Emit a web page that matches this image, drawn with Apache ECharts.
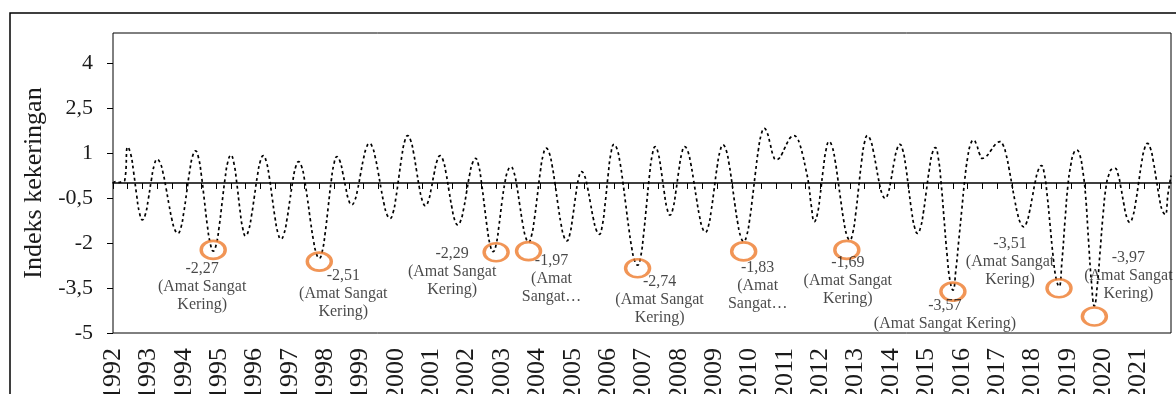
<!DOCTYPE html>
<html>
<head>
<meta charset="utf-8">
<script src="https://cdn.jsdelivr.net/npm/echarts@6/dist/echarts.min.js"></script>
<style>
html,body{margin:0;padding:0;background:#fff;}
#c{width:1176px;height:394px;}
</style>
</head>
<body>
<div id="c"></div>
<script>
// ---- data ----
const years = ['1992','1993','1994','1995','1996','1997','1998','1999','2000','2001',
  '2002','2003','2004','2005','2006','2007','2008','2009','2010','2011',
  '2012','2013','2014','2015','2016','2017','2018','2019','2020','2021'];

// monthly drought index, one row per year (Jan..Dec)
const v1992_2001 = [
  0.0, 0.05, 0.02, 0.05, 0.1, 1.2, 0.97, 0.36, -0.39, -1.0, -1.23, -1.04,
  -0.53, 0.09, 0.6, 0.79, 0.67, 0.33, -0.17, -0.72, -1.22, -1.56, -1.68, -1.50,
  -0.99, -0.31, 0.38, 0.89, 1.07, 0.85, 0.25, -0.58, -1.41, -2.01, -2.27, -2.06,
  -1.47, -0.67, 0.13, 0.72, 0.93, 0.67, 0.0, -0.83, -1.5, -1.76, -1.58, -1.09,
  -0.43, 0.24, 0.73, 0.91, 0.72, 0.22, -0.48, -1.17, -1.68, -1.87, -1.70, -1.23,
  -0.58, 0.06, 0.54, 0.71, 0.55, 0.10, -0.54, -1.26, -1.90, -2.35, -2.51, -2.28,
  -1.66, -0.82, 0.03, 0.65, 0.88, 0.73, 0.32, -0.17, -0.58, -0.73, -0.59, -0.22,
  0.30, 0.81, 1.18, 1.32, 1.20, 0.85, 0.35, -0.21, -0.71, -1.06, -1.18, -1.0,
  -0.49, 0.2, 0.89, 1.4, 1.58, 1.42, 1.0, 0.41, -0.18, -0.6, -0.76, -0.6,
  -0.18, 0.33, 0.75, 0.91, 0.76, 0.33, -0.25, -0.82, -1.25, -1.40, -1.25, -0.85
];
const v2002_2011 = [
  -0.29, 0.27, 0.67, 0.82, 0.61, 0.04, -0.74, -1.51, -2.08, -2.29, -2.05, -1.4,
  -0.62, 0.02, 0.42, 0.54, 0.37, -0.09, -0.72, -1.34, -1.80, -1.97, -1.76, -1.19,
  -0.41, 0.38, 0.95, 1.16, 1.01, 0.58, -0.04, -0.73, -1.35, -1.78, -1.93, -1.71,
  -1.13, -0.42, 0.16, 0.38, 0.24, -0.14, -0.67, -1.19, -1.57, -1.71, -1.43, -0.68,
  0.26, 1.01, 1.29, 1.14, 0.70, 0.04, -0.73, -1.49, -2.15, -2.59, -2.74, -2.48,
  -1.75, -0.77, 0.22, 0.95, 1.21, 0.99, 0.42, -0.28, -0.85, -1.07, -0.85, -0.28,
  0.42, 0.99, 1.21, 1.07, 0.67, 0.10, -0.53, -1.10, -1.50, -1.64, -1.45, -0.91,
  -0.19, 0.54, 1.07, 1.27, 1.11, 0.66, 0.02, -0.70, -1.34, -1.79, -1.95, -1.76,
  -1.24, -0.48, 0.35, 1.11, 1.63, 1.82, 1.67, 1.30, 0.92, 0.77, 0.82, 0.97,
  1.18, 1.38, 1.53, 1.58, 1.52, 1.3, 0.95, 0.5, 0.0, -0.8, -1.29, -1.04
];
const v2012_2021 = [
  -0.37, 0.46, 1.13, 1.38, 1.22, 0.76, 0.10, -0.62, -1.28, -1.74, -1.9, -1.67,
  -1.03, -0.16, 0.71, 1.35, 1.58, 1.44, 1.06, 0.54, 0.01, -0.37, -0.51, -0.34,
  0.11, 0.67, 1.12, 1.29, 1.09, 0.55, -0.20, -0.94, -1.48, -1.68, -1.49, -0.97,
  -0.25, 0.46, 0.99, 1.18, 0.86, -0.01, -1.2, -2.38, -3.25, -3.57, -2.9, -1.9,
  -0.9, 0.1, 0.85, 1.3, 1.43, 1.28, 0.98, 0.82, 0.86, 0.96, 1.10, 1.24,
  1.34, 1.38, 1.27, 0.97, 0.50, -0.04, -0.58, -1.05, -1.35, -1.46, -1.32, -0.95,
  -0.44, 0.07, 0.44, 0.58, 0.31, -0.43, -1.44, -2.44, -3.18, -3.45, -2.6, -1.3,
  -0.1, 0.6, 1.0, 1.1, 0.95, 0.45, -0.4, -1.9, -3.3, -4.1, -3.4, -2.2,
  -1.0, -0.1, 0.3, 0.47, 0.49, 0.3, -0.15, -0.7, -1.15, -1.31, -1.13, -0.65,
  0.0, 0.66, 1.14, 1.32, 1.16, 0.72, 0.13, -0.47, -0.91, -1.05, -0.35, 0.25
];

const yTicks = [-5, -3.5, -2, -0.5, 1, 2.5, 4];

// annotated extreme-drought months (circle marks)
const annotMonth = [34, 70, 130, 141, 178, 214, 249, 285, 321, 333];
const annotValue = [-2.23, -2.62, -2.31, -2.27, -2.84, -2.28, -2.23, -3.62, -3.51, -4.45];
const annotText = [
  '-2,27\n(Amat Sangat\nKering)',
  '-2,51\n(Amat Sangat\nKering)',
  '-2,29\n(Amat Sangat\nKering)',
  '-1,97\n(Amat\nSangat…',
  '-2,74\n(Amat Sangat\nKering)',
  '-1,83\n(Amat\nSangat…',
  '-1,69\n(Amat Sangat\nKering)',
  '-3,57\n(Amat Sangat Kering)',
  '-3,51\n(Amat Sangat\nKering)',
  '-3,97\n(Amat Sangat\nKering)'
];

// ---- styles ----
const labelOffsets = [[-11,37],[24,32],[-44,19],[23,28],[22,32],[14,34],[1,31],[-8,23],[-49,-27],[34,-41]];
const serif = '"Liberation Serif", "Times New Roman", serif';

const months = [];
years.forEach(y => { for (let m = 1; m <= 12; m++) months.push(y + '-' + (m < 10 ? '0' + m : m)); });
const values = v1992_2001.concat(v2002_2011, v2012_2021);

const annotData = annotMonth.map((m, k) => ({
  value: [months[m], annotValue[k]],
  label: { formatter: annotText[k], offset: labelOffsets[k] }
}));

const chart = echarts.init(document.getElementById('c'), null, { renderer: 'canvas' });
chart.setOption({
  animation: false,
  backgroundColor: '#fff',
  graphic: [{
    type: 'rect', silent: true, z: -1,
    shape: { x: 10, y: 13, width: 1300, height: 500 },
    style: { fill: 'none', stroke: '#000', lineWidth: 1.5 }
  }],
  grid: {
    left: 113, top: 33, right: 5, bottom: 61,
    outerBoundsMode: 'none', containLabel: false,
    show: true, borderColor: '#000', borderWidth: 1, backgroundColor: 'transparent'
  },
  xAxis: [{
    type: 'category', data: months, boundaryGap: false, position: 'bottom',
    axisLine: { onZero: true, lineStyle: { color: '#000', width: 1.5 } },
    axisTick: { show: true, interval: 4, length: 6, inside: false, lineStyle: { color: '#000', width: 1 } },
    axisLabel: { show: false },
    splitLine: { show: false }
  }, {
    type: 'category', data: months, boundaryGap: false, position: 'bottom',
    axisLine: { show: false, onZero: false },
    axisTick: { show: false },
    axisLabel: {
      interval: 11, rotate: 90, margin: 15,
      fontFamily: serif, fontSize: 26, color: '#1a1a1a',
      formatter: v => v.slice(0, 4)
    },
    splitLine: { show: false }
  }],
  yAxis: {
    type: 'value', min: -5, max: 5,
    name: 'Indeks kekeringan', nameLocation: 'middle', nameGap: 57,
    nameTextStyle: { fontFamily: serif, fontSize: 26, color: '#1a1a1a' },
    axisLine: { show: false },
    axisTick: { show: true, inside: false, length: 6, customValues: yTicks, lineStyle: { color: '#000' } },
    axisLabel: {
      customValues: yTicks, margin: 20,
      fontFamily: serif, fontSize: 22, color: '#1a1a1a',
      formatter: v => String(v).replace('.', ',')
    },
    splitLine: { show: false }
  },
  series: [{
    type: 'line', data: values, xAxisIndex: 0,
    smooth: true, showSymbol: false, symbol: 'none',
    lineStyle: { color: '#000', width: 1.7, type: [3, 3] },
    z: 3
  }, {
    type: 'scatter', data: annotData, xAxisIndex: 0,
    symbol: 'circle', symbolSize: [24, 18],
    itemStyle: { color: 'rgba(0,0,0,0)', borderColor: '#EE7A2C', borderWidth: 3 },
    label: {
      show: true, position: 'inside', color: '#1a1a1a',
      fontFamily: serif, fontSize: 16, lineHeight: 18, align: 'center'
    },
    z: 5
  }]
});
</script>
</body>
</html>
